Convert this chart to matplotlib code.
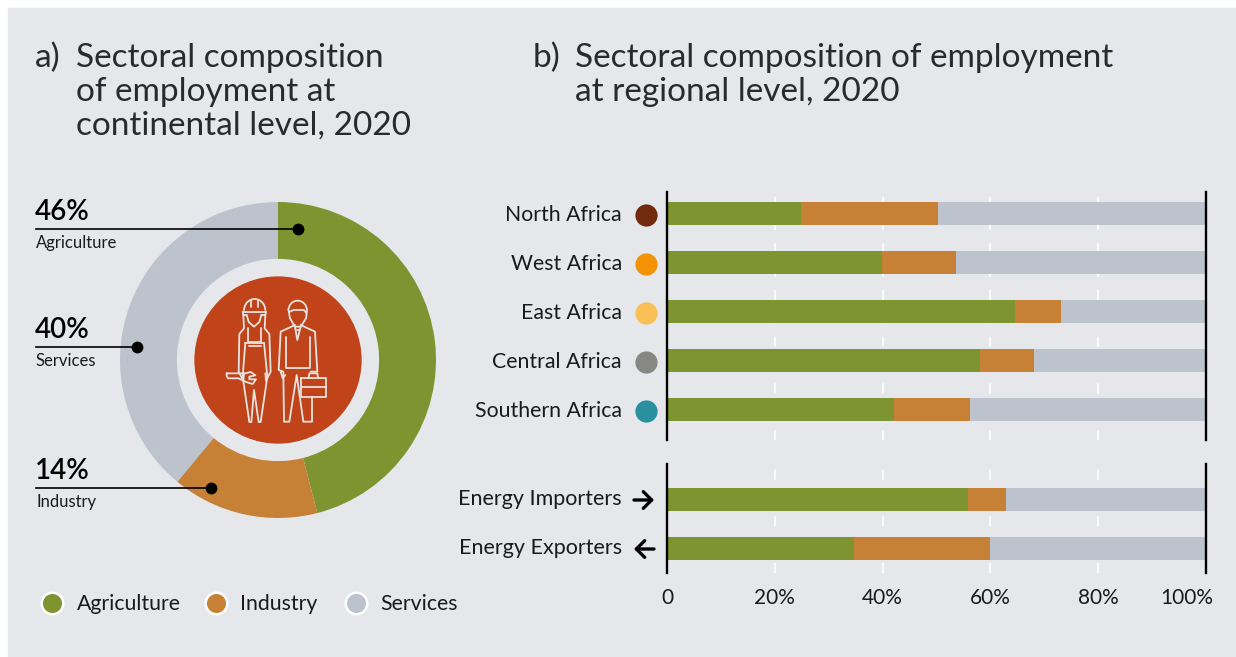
import matplotlib
matplotlib.use('Agg')
import matplotlib.pyplot as plt
from matplotlib.patches import Rectangle, Circle, Arc
from matplotlib.transforms import ScaledTranslation

plt.rcParams['font.family'] = ['Lato', 'DejaVu Sans']

BG = '#e6e7eb'
GREEN = '#7e9430'
ORANGE = '#c78137'
GREY = '#bcc3cd'
INK = '#1a1a1a'

# panel a, wedges
donut_labels = ['Agriculture', 'Industry', 'Services']
donut_values = [46, 15, 39]

# panel b
regions = ['North Africa', 'West Africa', 'East Africa', 'Central Africa', 'Southern Africa']
region_colors = ['#722a0e', '#f39205', '#fac055', '#878784', '#2a909f']
region_agri = [24.9, 39.9, 64.6, 58.0, 42.1]
region_ind = [25.4, 13.7, 8.5, 10.1, 14.1]

energy = ['Energy Importers', 'Energy Exporters']
energy_agri = [55.8, 34.7]
energy_ind = [7.1, 25.2]

x_ticks = [0, 20, 40, 60, 80, 100]
x_tick_labels = ['0', '20%', '40%', '60%', '80%', '100%']

W, H = 1236, 657


def px_axes(left, top, right, bottom):
    return fig.add_axes([left / W, 1 - bottom / H, (right - left) / W, (bottom - top) / H])


def draw_bars(ax, agri, ind):
    for i in range(len(agri)):
        rest = 100 - agri[i] - ind[i]
        ax.barh(i, agri[i], height=0.47, color=GREEN, zorder=3)
        ax.barh(i, ind[i], left=agri[i], height=0.47, color=ORANGE, zorder=3)
        ax.barh(i, rest, left=agri[i] + ind[i], height=0.47, color=GREY, zorder=3)
    ax.set_xlim(0, 100)
    ax.set_xticks(x_ticks)
    ax.set_yticks([])
    ax.patch.set_alpha(0)
    ax.grid(axis='x', color='white', lw=1.2, ls=(0, (6, 8)), zorder=1)
    for s in ['top', 'bottom']:
        ax.spines[s].set_visible(False)
    for s in ['left', 'right']:
        ax.spines[s].set_linewidth(1.7)
        ax.spines[s].set_color('black')
        ax.spines[s].set_zorder(5)


fig = plt.figure(figsize=(W / 100, H / 100), dpi=100, facecolor='white')

# overlay in pixel coordinates for background, texts and callouts
back = fig.add_axes([0, 0, 1, 1], zorder=0)
back.set_xlim(0, W)
back.set_ylim(H, 0)
back.axis('off')
back.add_patch(Rectangle((8, 8), 1228, 649, color=BG))

# donut
ax_pie = px_axes(120, 202, 436, 518)
ax_pie.set_zorder(1)
ax_pie.pie(donut_values, colors=[GREEN, ORANGE, GREY], startangle=90, counterclock=False,
           radius=1.0, wedgeprops=dict(width=0.36))
ax_pie.set_xlim(-1, 1)
ax_pie.set_ylim(-1, 1)
ax_pie.add_patch(Circle((0, 0), 0.525, color='#c0431a'))

# bars
ax_top = px_axes(667, 192, 1206, 440)
ax_top.set_zorder(1)
ax_top.set_ylim(4.62, -0.439)
draw_bars(ax_top, region_agri, region_ind)
ax_top.tick_params(axis='x', length=0, labelbottom=False)

ax_bot = px_axes(667, 464, 1206, 573)
ax_bot.set_zorder(1)
ax_bot.set_ylim(1.51, -0.72)
draw_bars(ax_bot, energy_agri, energy_ind)
ax_bot.set_xticklabels(x_tick_labels, fontsize=15, color=INK)
ax_bot.tick_params(axis='x', length=0, pad=11)
# the last label sits left of its line
last = ax_bot.get_xticklabels()[-1]
last.set_transform(last.get_transform() + ScaledTranslation(-19 / 100, 0, fig.dpi_scale_trans))

over = fig.add_axes([0, 0, 1, 1], zorder=3)
over.set_xlim(0, W)
over.set_ylim(H, 0)
over.axis('off')

# titles
title_kw = dict(fontsize=24, color='#2a2a2a', va='center', ha='left')
over.text(35, 58, 'a)', **title_kw)
over.text(76, 58, 'Sectoral composition', **title_kw)
over.text(76, 92, 'of employment at', **title_kw)
over.text(76, 126, 'continental level, 2020', **title_kw)
over.text(533, 58, 'b)', **title_kw)
over.text(575, 58, 'Sectoral composition of employment', **title_kw)
over.text(575, 92, 'at regional level, 2020', **title_kw)

# callouts
callouts = [('46%', 'Agriculture', 229, 298), ('40%', 'Services', 347, 137), ('14%', 'Industry', 488, 211)]
for pct, name, y, xend in callouts:
    over.plot([36, xend], [y, y], color='black', lw=1.2)
    over.plot([xend], [y], 'o', color='black', ms=7.5)
    over.text(35, y - 17, pct, fontsize=20, color='black', va='center', ha='left', fontweight='semibold')
    over.text(36, y + 14, name, fontsize=12, color=INK, va='center', ha='left')

# legend
for x, name, col in zip([52, 216, 356], donut_labels, [GREEN, ORANGE, GREY]):
    over.plot([x], [603], 'o', color=col, ms=15.5, mec='white', mew=1.8)
    over.text(x + 24.5, 604, name, fontsize=15.3, color=INK, va='center', ha='left')

# region labels and dots
for i, name in enumerate(regions):
    y = 214 + i * 49
    over.text(622, y + 1, name, fontsize=15.3, color=INK, va='center', ha='right')
    over.plot([646], [y + 1], 'o', color=region_colors[i], ms=16, mec='none')

for i, name in enumerate(energy):
    y = 499 + i * 49
    over.text(622, y, name, fontsize=15.5, color=INK, va='center', ha='right')
arrow_kw = dict(arrowstyle='->,head_width=0.3,head_length=0.3', color='black', lw=2.4,
                shrinkA=0, shrinkB=0, mutation_scale=20)
over.annotate('', xy=(654, 500), xytext=(634, 500), arrowprops=arrow_kw)
over.annotate('', xy=(634, 549), xytext=(654, 549), arrowprops=arrow_kw)

# workers icon
ICON = '#e6e4e0'


def line(pts):
    over.plot([180 + p[0] / 3 for p in pts], [260 + p[1] / 3 for p in pts],
              color=ICON, lw=1.3, solid_capstyle='round', solid_joinstyle='round')


def arc(cx, cy, w, h):
    over.add_patch(Arc((180 + cx / 3, 260 + cy / 3), w / 3, h / 3, theta1=180, theta2=360, color=ICON, lw=1.3))


# woman
arc(224, 152, 64, 70)
line([(188, 155), (258, 155)])
line([(188, 155), (190, 165), (200, 165)])
line([(258, 155), (256, 165), (244, 165)])
line([(214, 120), (214, 140)])
line([(234, 120), (234, 140)])
line([(200, 165), (206, 186), (222, 200), (238, 186), (244, 165)])
line([(190, 165), (192, 205), (178, 222), (176, 335), (190, 362), (192, 340)])
line([(256, 165), (254, 205), (268, 222), (272, 335), (258, 362), (256, 340)])
line([(204, 205), (204, 245), (244, 245), (244, 205)])
line([(206, 258), (244, 258)])
line([(196, 248), (250, 248)])
line([(196, 248), (188, 350), (208, 486), (214, 486), (222, 390), (236, 486), (242, 486), (262, 350), (252, 248)])
# wrench
line([(140, 340), (176, 340), (196, 340), (212, 336), (226, 346), (208, 350), (208, 358), (228, 358), (218, 372), (198, 366), (176, 355), (144, 355), (140, 348), (140, 340)])

# man
arc(353, 152, 56, 60)
line([(326, 152), (330, 175), (345, 200), (362, 200), (378, 175), (381, 152)])
line([(330, 155), (340, 150), (372, 150), (378, 158)])
line([(345, 195), (302, 215), (296, 330), (310, 335), (312, 485), (328, 485), (350, 345), (370, 485), (396, 485), (396, 410)])
line([(362, 195), (405, 215), (412, 335), (392, 335)])
line([(318, 230), (318, 325), (390, 325), (390, 230)])
line([(345, 200), (352, 240), (362, 200)])
line([(302, 335), (308, 355), (316, 345)])
line([(350, 210), (356, 210)])
# briefcase
line([(364, 354), (438, 354), (438, 412), (364, 412), (364, 354)])
line([(364, 380), (438, 380)])
line([(386, 354), (388, 340), (412, 340), (414, 354)])

fig.savefig('out.png', dpi=100, facecolor='white')
